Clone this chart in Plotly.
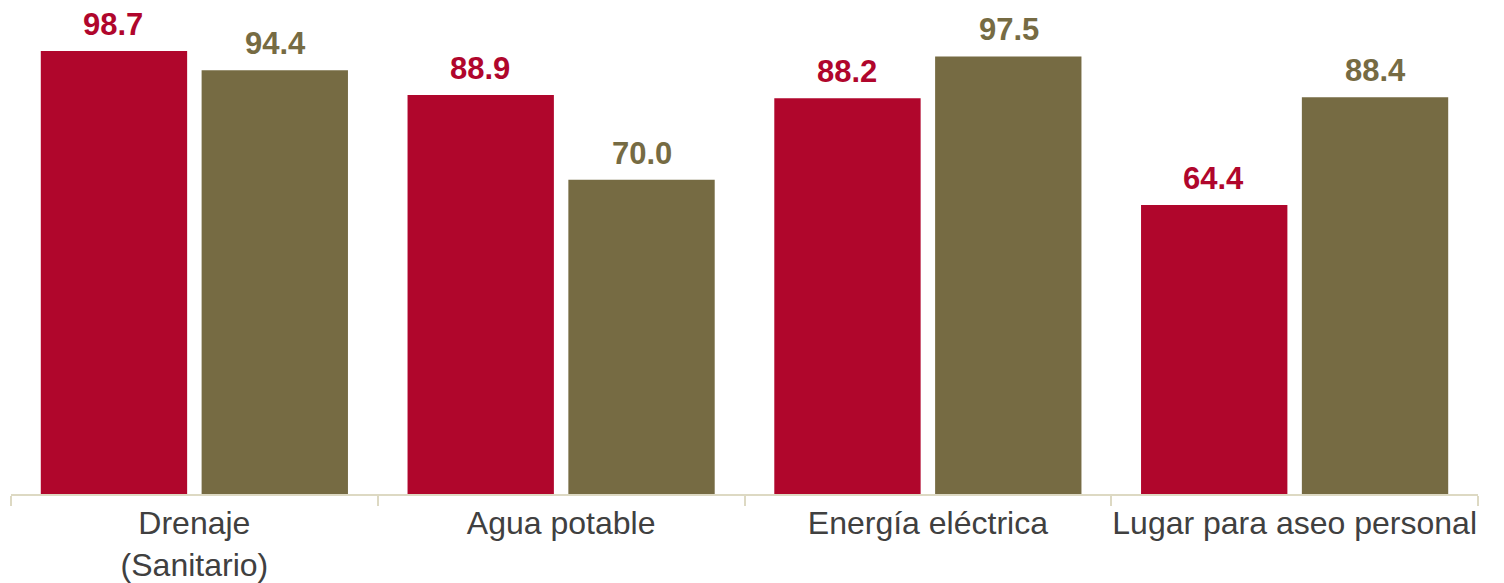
import plotly.graph_objects as go

categories = ["Drenaje<br>(Sanitario)", "Agua potable", "Energía eléctrica", "Lugar para aseo personal"]
serie_a = [98.7, 88.9, 88.2, 64.4]
serie_b = [94.4, 70.0, 97.5, 88.4]

RED = "#B0062C"
OLIVE = "#766B43"
FONT = "Liberation Sans, Arial, sans-serif"

fig = go.Figure()
fig.add_trace(go.Bar(x=categories, y=serie_a, marker=dict(color=RED, line=dict(width=0)), name="A"))
fig.add_trace(go.Bar(x=categories, y=serie_b, marker=dict(color=OLIVE, line=dict(width=0)), name="B"))

annotations = []
for vals, color, shift in [(serie_a, RED, -81), (serie_b, OLIVE, 81)]:
    for c, v in zip(categories, vals):
        annotations.append(dict(
            x=c, y=v, xref="x", yref="y", text=f"<b>{v:.1f}</b>", showarrow=False,
            yanchor="bottom", xanchor="center", xshift=shift, yshift=7,
            font=dict(family=FONT, size=31, color=color),
        ))

fig.update_layout(
    width=1496, height=575,
    margin=dict(l=3, r=26, t=0, b=89, autoexpand=False),
    paper_bgcolor="white", plot_bgcolor="white",
    barmode="group", bargap=0.123, bargroupgap=0.09,
    showlegend=False,
    annotations=annotations,
    font=dict(family=FONT, size=32, color="#404040"),
)
fig.update_xaxes(
    type="category", showline=True, linecolor="#DDD9C3", linewidth=2,
    ticks="outside", tickson="boundaries", ticklen=10, tickwidth=2, tickcolor="#DDD9C3",
    ticklabelstandoff=0, tickangle=0, automargin=False,
    showgrid=False, tickfont=dict(family=FONT, size=32, color="#404040"),
)
fig.update_yaxes(range=[0, 108.29], visible=False, showgrid=False, zeroline=False, automargin=False)

fig.write_html("out.html")
